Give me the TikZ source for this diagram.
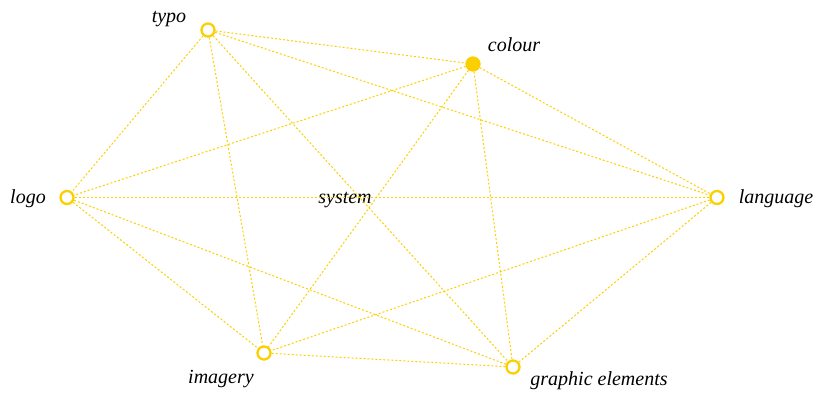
\documentclass[tikz,border=0pt]{standalone}
\usepackage{fontspec}
\setmainfont{Liberation Serif}
\usepackage{tikz}
\definecolor{gold}{RGB}{252,208,0}
\begin{document}
\begin{tikzpicture}[x=1pt, y=-1pt,
 font=\fontsize{20}{24}\selectfont\itshape,
 dot/.style={circle, draw=gold, line width=2.3pt, fill=white, minimum size=13pt, inner sep=0pt},
 full/.style={dot, fill=gold},
 word/.style={anchor=base, inner sep=0pt},
 link/.style={draw=gold, line width=1pt, dash pattern=on 2pt off 2pt}]
\useasboundingbox (0,0) rectangle (818,392);
% hubs
\node[dot] (typo) at (208,30) {};
\node[full] (colour) at (473,64) {};
\node[dot] (logo) at (67,197.5) {};
\node[dot] (language) at (717,197.5) {};
\node[dot] (imagery) at (264,353) {};
\node[dot] (graphic) at (513,367) {};
% names
\node[word] (typotxt) at (169,22) {typo};
\node[word] (colourtxt) at (514,51) {colour};
\node[word] (logotxt) at (28,203) {logo};
\node[word] (systemtxt) at (345,203) {system};
\node[word] (languagetxt) at (776,203) {language};
\node[word] (imagerytxt) at (221,383) {imagery};
\node[word] (graphictxt) at (599,385) {graphic elements};
% every pair linked
\foreach \a/\b in {typo/colour, typo/logo, typo/language, typo/imagery, typo/graphic,
 colour/logo, colour/language, colour/imagery, colour/graphic,
 logo/language, logo/imagery, logo/graphic,
 language/imagery, language/graphic, imagery/graphic}
 \draw[link] (\a) -- (\b);
\end{tikzpicture}
\end{document}
